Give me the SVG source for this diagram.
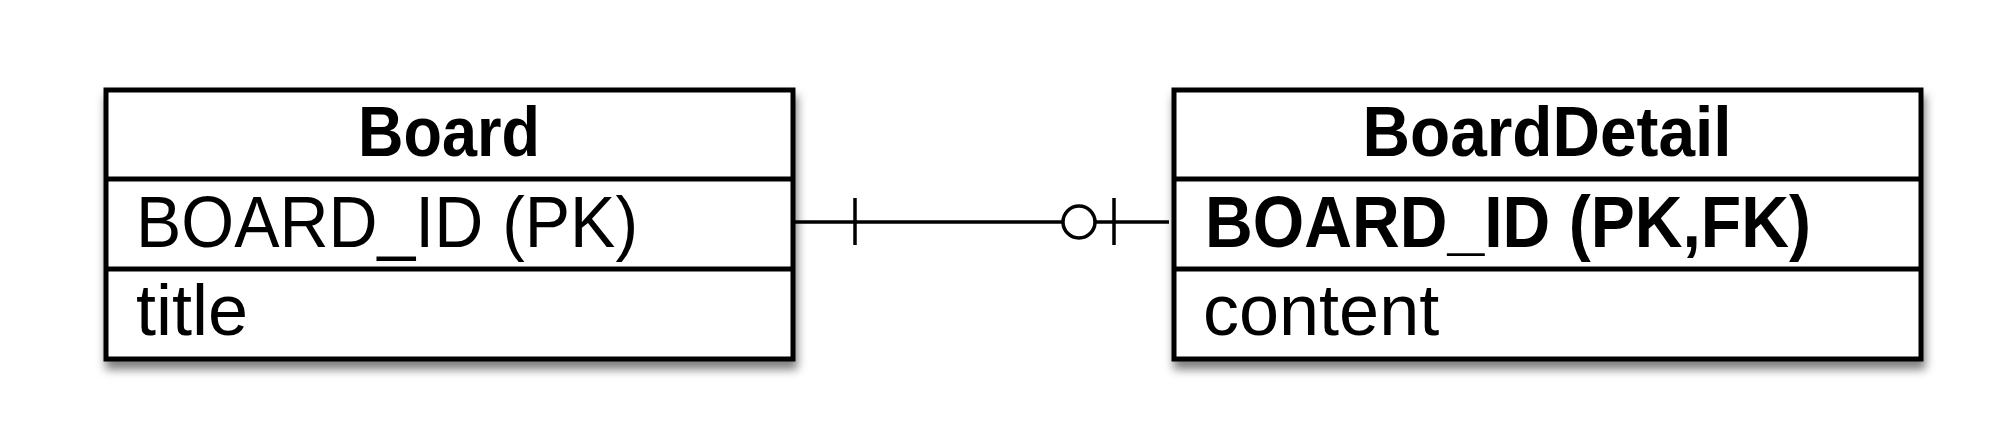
<svg xmlns="http://www.w3.org/2000/svg" width="2000" height="429" viewBox="0 0 2000 429">
<style>
.box{fill:#fff;stroke:#000;stroke-width:5}
.div{stroke:#000;stroke-width:5}
.conn{stroke:#000;stroke-width:3.5;fill:none}
.t{font-family:"Liberation Sans",Arial,sans-serif;fill:#000}
.h{font-size:70px;font-weight:bold;text-anchor:middle}
.r{font-size:72px}
.b{font-size:72px;font-weight:bold}
</style>
<defs>
<filter id="sh" x="-5%" y="-10%" width="115%" height="135%">
<feDropShadow dx="2" dy="8" stdDeviation="5" flood-color="#000" flood-opacity="0.5"/>
</filter>
</defs>
<g id="Board">
<rect class="box" x="106" y="90" width="687" height="269" filter="url(#sh)"/>
<line class="div" x1="106" y1="179" x2="793" y2="179"/>
<line class="div" x1="106" y1="269" x2="793" y2="269"/>
<text class="t h" x="449" y="156" textLength="182" lengthAdjust="spacingAndGlyphs">Board</text>
<text class="t r" x="136" y="247" textLength="502" lengthAdjust="spacingAndGlyphs">BOARD_ID (PK)</text>
<text class="t r" x="136" y="335">title</text>
</g>
<g id="BoardDetail">
<rect class="box" x="1174" y="90" width="747" height="269" filter="url(#sh)"/>
<line class="div" x1="1174" y1="179" x2="1921" y2="179"/>
<line class="div" x1="1174" y1="269" x2="1921" y2="269"/>
<text class="t h" x="1547" y="156" textLength="369" lengthAdjust="spacingAndGlyphs">BoardDetail</text>
<text class="t b" x="1205" y="247" textLength="606" lengthAdjust="spacingAndGlyphs">BOARD_ID (PK,FK)</text>
<text class="t r" x="1203" y="335">content</text>
</g>
<g id="connectors">
<line class="conn" x1="793" y1="222" x2="1062" y2="222"/>
<line class="conn" x1="1096" y1="222" x2="1169" y2="222"/>
<line class="conn" x1="855" y1="198" x2="855" y2="245"/>
<line class="conn" x1="1114" y1="198" x2="1114" y2="245"/>
<circle class="conn" cx="1079" cy="222" r="16"/>
</g>
</svg>
